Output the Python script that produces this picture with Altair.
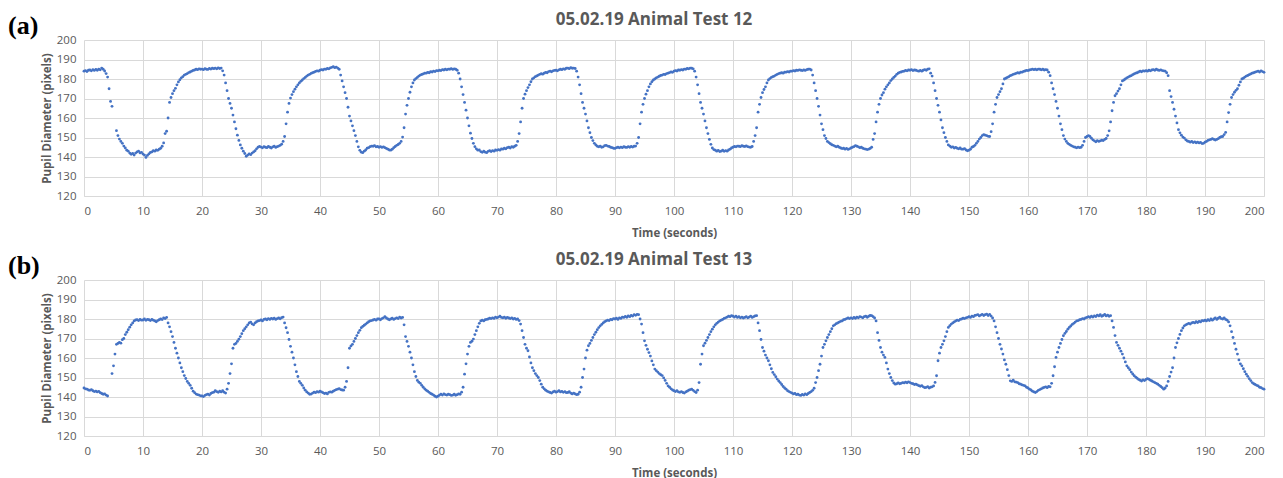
import altair as alt
import numpy as np
import pandas as pd

STEP = 0.25  # sampling interval (s) of the values below, starting at t = 0

TITLE_A = "05.02.19 Animal Test 12"
TITLE_B = "05.02.19 Animal Test 13"
X_TITLE = "Time (seconds)"
Y_TITLE = "Pupil Diameter (pixels)"
X_TICKS = list(range(0, 201, 10))
Y_TICKS = list(range(120, 201, 10))

N = None
test12 = [
    184.0, 184.3, 183.8, 184.5, 184.6, 184.2, 184.8, 184.4, 184.9, 184.5, 185.1, 184.7, 185.6, 185.0, 184.1, 182.8, 181.0, 175.0, 168.5, 166.0,
    N, N, 153.5, 151.0, 149.2, 148.0, 147.0, 145.6, 144.6, 143.5, 143.0, 142.0, 141.4, 141.8, 141.0, 142.0, 142.6, 143.0, 142.1, 142.4,
    141.5, 141.0, 139.8, 140.8, 141.6, 142.3, 142.6, 143.2, 143.0, 143.6, 143.4, 144.0, 144.5, 145.5, 147.2, 152.0, 153.2, 160.0, 168.0, 170.5,
    172.5, 174.0, 175.2, 177.0, 178.5, 179.6, 180.6, 181.2, 182.0, 182.4, 182.8, 183.3, 183.6, 184.0, 184.4, 184.6, 185.0, 184.8, 185.2, 185.0,
    185.1, 184.8, 185.3, 185.0, 184.9, 185.4, 185.1, 185.5, 185.3, 185.6, 185.2, 185.7, 185.4, 185.6, 184.2, 182.0, 178.0, 174.0, 170.0, 167.5,
    165.0, 161.5, 158.0, 154.5, 151.2, 148.5, 146.2, 144.5, 143.0, 141.8, 140.4, 141.0, 141.6, 141.2, 142.0, 142.6, 143.2, 144.2, 145.0, 145.4,
    145.1, 144.7, 145.3, 145.0, 144.8, 145.4, 145.0, 144.6, 145.2, 145.5, 144.9, 145.3, 145.6, 146.0, 146.6, 148.0, 150.5, 157.0, 163.0, 167.5,
    170.2, 172.0, 173.5, 174.8, 176.0, 177.0, 178.0, 178.8, 179.5, 180.2, 180.8, 181.5, 182.0, 182.4, 182.9, 183.2, 183.5, 183.9, 184.2, 184.0,
    184.5, 184.8, 184.6, 185.1, 185.0, 185.4, 185.2, 185.7, 186.0, 186.3, 185.8, 186.1, 185.6, 185.0, 182.0, 179.0, 176.0, 173.0, 170.0, 165.5,
    161.0, 158.5, 156.0, 153.5, 151.0, 148.0, 145.2, 143.4, 142.5, 142.2, 143.0, 143.6, 144.5, 144.8, 145.3, 145.6, 145.5, 145.8, 145.2, 145.4,
    145.0, 145.3, 144.9, 145.2, 144.8, 144.4, 144.0, 143.6, 143.5, 144.0, 144.8, 145.4, 146.0, 146.4, 147.0, 148.0, 150.2, 155.0, 162.0, 166.5,
    170.0, 173.2, 176.0, 178.0, 179.5, 180.2, 180.8, 181.5, 182.0, 182.3, 182.6, 183.0, 183.0, 183.4, 183.2, 183.7, 183.6, 184.0, 183.8, 184.3,
    184.2, 184.5, 184.3, 184.8, 184.6, 185.0, 184.7, 185.1, 185.0, 185.3, 184.9, 185.2, 185.0, 184.5, 183.0, 180.0, 176.0, 172.0, 168.0, 164.0,
    160.0, 156.0, 152.2, 149.5, 147.0, 145.3, 144.2, 143.5, 143.6, 142.8, 142.4, 143.0, 142.5, 142.2, 142.9, 143.2, 142.8, 143.3, 143.0, 143.6,
    143.4, 143.8, 143.5, 144.2, 144.0, 144.5, 144.2, 144.8, 145.0, 144.6, 145.3, 145.0, 145.5, 146.0, 148.0, 152.0, 158.0, 165.0, 170.0, 172.2,
    174.0, 175.6, 177.0, 178.6, 180.0, 180.6, 181.2, 181.6, 182.0, 182.4, 182.7, 182.5, 183.0, 183.4, 183.2, 183.8, 184.0, 183.7, 184.2, 184.4,
    184.5, 184.2, 184.7, 185.0, 184.8, 185.2, 185.0, 185.5, 185.6, 185.3, 185.8, 185.5, 185.6, 185.4, 184.0, 181.0, 177.0, 172.5, 168.0, 165.0,
    162.0, 158.5, 155.0, 152.5, 150.0, 148.4, 147.0, 146.2, 145.5, 145.2, 145.6, 145.0, 145.2, 145.8, 146.0, 145.6, 145.4, 145.0, 144.8, 144.5,
    144.4, 144.8, 145.0, 144.7, 145.1, 144.8, 145.3, 145.0, 144.9, 145.3, 145.0, 145.4, 145.1, 145.5, 145.6, 147.0, 150.0, 157.0, 163.0, 167.0,
    170.0, 172.2, 174.0, 176.0, 177.5, 178.6, 179.5, 180.0, 180.6, 181.0, 181.4, 181.8, 182.0, 182.4, 182.3, 182.8, 183.0, 183.3, 183.6, 183.4,
    184.0, 184.3, 184.1, 184.6, 184.5, 184.8, 184.6, 185.1, 185.0, 185.4, 185.2, 185.6, 185.5, 185.2, 184.0, 181.0, 177.0, 172.5, 168.0, 165.0,
    162.0, 158.5, 155.0, 152.0, 149.0, 146.5, 144.6, 143.8, 143.5, 143.0, 143.4, 142.8, 143.0, 143.5, 142.9, 143.3, 143.0, 143.6, 144.0, 144.6,
    145.0, 145.4, 145.2, 145.6, 145.5, 145.3, 145.8, 145.5, 145.4, 145.7, 145.3, 145.1, 145.0, 145.4, 148.0, 151.0, 155.0, 163.0, 167.0, 170.5,
    173.0, 174.6, 176.0, 178.0, 179.5, 180.2, 180.8, 181.2, 181.5, 182.0, 182.4, 182.8, 183.0, 183.2, 183.0, 183.5, 183.5, 183.8, 183.6, 184.0,
    184.0, 184.3, 184.1, 184.5, 184.4, 184.7, 184.5, 184.3, 184.6, 184.4, 184.8, 185.0, 185.1, 184.6, 182.0, 178.0, 174.0, 170.0, 166.0, 161.5,
    157.0, 154.0, 151.0, 149.5, 148.0, 147.4, 146.8, 146.3, 146.0, 145.6, 145.2, 145.5, 145.0, 144.6, 144.3, 144.5, 144.0, 144.4, 143.9, 144.2,
    144.6, 145.0, 145.3, 145.8, 145.5, 145.2, 144.8, 145.0, 144.5, 144.2, 144.0, 143.8, 144.0, 144.4, 145.0, 149.0, 152.0, 158.0, 163.0, 167.0,
    170.0, 171.8, 173.0, 174.8, 176.0, 177.0, 178.0, 179.2, 180.0, 180.8, 181.5, 182.4, 183.0, 183.4, 183.6, 183.9, 184.0, 184.4, 184.2, 184.6,
    184.5, 184.8, 184.3, 184.6, 184.5, 184.2, 184.0, 184.4, 184.0, 184.5, 184.8, 184.5, 185.0, 185.2, 183.0, 181.5, 178.0, 174.0, 170.0, 166.5,
    163.0, 159.0, 155.0, 152.5, 150.0, 148.0, 146.2, 145.6, 145.0, 145.2, 144.6, 144.9, 144.5, 144.2, 144.6, 144.0, 144.0, 144.3, 143.6, 143.2,
    143.5, 144.0, 145.0, 145.4, 146.0, 147.0, 148.0, 149.2, 150.0, 151.0, 151.5, 151.2, 151.0, 150.6, 150.5, 153.0, 157.0, 163.0, 167.0, 170.5,
    172.0, 173.5, 175.0, 177.5, 180.0, 180.4, 180.8, 181.2, 181.7, 182.0, 182.4, 182.6, 182.9, 183.2, 183.0, 183.5, 183.5, 183.9, 184.1, 184.4,
    184.3, 184.6, 184.8, 185.1, 184.8, 185.0, 184.7, 185.1, 185.0, 184.7, 185.0, 184.6, 184.8, 184.6, 183.5, 181.7, 178.0, 175.0, 172.0, 168.5,
    165.0, 161.0, 157.0, 154.0, 151.0, 149.2, 148.0, 147.0, 146.5, 146.0, 145.6, 145.2, 145.0, 144.7, 145.1, 144.8, 145.0, 146.0, 148.0, 150.0,
    150.5, 151.0, 150.5, 149.6, 148.8, 148.3, 147.8, 148.4, 148.0, 148.3, 148.6, 148.4, 149.0, 149.5, 151.0, 153.4, 158.0, 163.7, 168.0, 171.4,
    172.5, 173.8, 175.0, 177.0, 179.0, 179.5, 180.0, 180.6, 181.0, 181.4, 181.7, 182.2, 182.6, 183.0, 183.2, 183.6, 184.0, 183.7, 184.2, 184.0,
    184.3, 184.0, 184.5, 184.2, 184.6, 184.8, 184.5, 185.0, 184.6, 184.4, 184.7, 184.3, 184.2, 184.0, 183.2, 181.7, 174.0, 171.0, 168.0, 164.5,
    161.0, 157.5, 154.0, 152.4, 151.2, 150.2, 149.7, 148.8, 148.2, 148.0, 147.6, 148.0, 147.4, 147.8, 147.3, 147.6, 147.2, 147.5, 146.9, 147.0,
    147.6, 148.0, 148.5, 148.8, 149.0, 149.4, 149.0, 148.7, 149.0, 149.4, 150.0, 150.4, 150.5, 151.5, 152.6, 158.0, 162.8, 167.0, 170.5, 172.0,
    173.2, 174.2, 175.0, 176.8, 178.5, 180.0, 180.4, 181.0, 181.5, 181.8, 182.2, 182.6, 183.0, 183.2, 183.5, 183.8, 184.0, 183.6, 184.2, 183.8,
    183.4,
]

test13 = [
    144.6, 144.2, 144.0, 143.6, 143.4, 143.8, 143.2, 142.8, 143.0, 142.6, 142.9, 142.2, 141.8, 141.4, 141.6, 141.0, 140.5, N, N, 152.0,
    156.0, 162.0, 167.0, 167.5, 168.0, 167.6, 169.4, 170.0, 172.0, 173.2, 174.5, 175.8, 177.0, 178.0, 179.0, 179.5, 179.6, 179.2, 179.8, 179.4,
    179.5, 180.0, 179.3, 179.8, 179.6, 179.2, 179.8, 179.4, 179.0, 178.6, 179.2, 179.6, 180.0, 179.7, 180.6, 180.2, 180.8, 178.0, 176.0, 173.5,
    171.0, 168.0, 165.0, 162.5, 160.0, 157.5, 155.0, 153.0, 151.0, 149.5, 148.0, 147.0, 146.0, 144.5, 143.0, 142.2, 141.5, 141.2, 141.0, 140.6,
    140.5, 140.2, 140.8, 141.2, 141.5, 141.0, 141.8, 142.2, 142.5, 143.2, 142.8, 142.4, 143.0, 142.6, 143.2, 142.5, 142.0, 144.0, 147.0, 152.0,
    157.0, 165.0, 167.0, 167.5, 168.5, 169.6, 171.0, 172.5, 174.0, 175.0, 176.0, 177.0, 178.0, 178.4, 177.5, 177.0, 178.0, 178.6, 179.0, 179.2,
    179.5, 179.0, 179.8, 180.0, 179.6, 180.2, 179.8, 180.3, 180.0, 180.4, 179.8, 180.2, 180.5, 180.1, 180.7, 181.0, 178.0, 175.5, 173.0, 169.5,
    166.0, 163.0, 160.0, 156.5, 153.0, 150.5, 148.0, 147.0, 146.0, 144.6, 143.5, 142.6, 142.0, 141.4, 141.5, 142.0, 142.5, 142.2, 142.8, 142.5,
    143.0, 142.6, 142.2, 141.8, 142.0, 141.6, 142.4, 142.6, 142.5, 143.0, 143.4, 143.8, 144.0, 144.3, 143.8, 143.6, 143.5, 145.0, 148.0, 155.0,
    165.0, 166.2, 167.0, 168.5, 170.0, 171.5, 173.0, 174.2, 175.5, 176.2, 176.8, 177.4, 178.0, 178.6, 179.0, 179.2, 179.5, 179.8, 179.4, 180.0,
    180.0, 179.6, 180.2, 180.6, 181.2, 180.5, 180.0, 179.6, 180.0, 180.4, 179.8, 180.2, 180.6, 180.2, 181.0, 180.5, 180.8, 177.0, 171.0, 168.5,
    166.0, 163.0, 160.0, 156.5, 153.0, 150.5, 148.5, 147.6, 147.0, 146.0, 145.0, 144.2, 143.5, 143.0, 142.4, 141.8, 141.4, 141.0, 140.4, 140.0,
    140.4, 141.0, 141.4, 141.0, 141.6, 141.2, 141.0, 141.4, 141.2, 140.8, 141.0, 141.4, 140.9, 141.2, 141.6, 141.4, 142.5, 145.0, 151.7, 157.0,
    162.0, 166.0, 168.0, 168.6, 169.7, 172.0, 174.0, 176.0, 177.8, 179.0, 179.4, 179.0, 179.6, 179.8, 180.0, 180.4, 180.2, 180.6, 180.3, 181.0,
    180.6, 181.0, 181.4, 180.8, 180.6, 181.0, 180.4, 180.8, 180.5, 180.2, 180.6, 180.0, 180.3, 179.8, 180.0, 179.2, 177.4, 174.0, 170.5, 167.0,
    165.0, 163.7, 160.5, 157.5, 155.0, 153.5, 152.0, 151.0, 150.0, 148.4, 146.6, 145.0, 144.2, 143.5, 143.0, 142.6, 142.3, 142.0, 142.6, 143.0,
    142.5, 142.8, 143.2, 142.6, 142.9, 142.4, 142.8, 142.2, 142.3, 142.7, 142.0, 141.6, 142.0, 141.6, 141.2, 141.4, 142.5, 145.0, 150.0, 154.3,
    160.0, 164.0, 166.3, 167.5, 169.0, 170.5, 172.0, 173.2, 174.5, 175.6, 176.5, 177.2, 178.0, 178.6, 179.0, 179.4, 179.2, 179.8, 179.6, 180.2,
    180.0, 180.4, 179.8, 180.6, 180.3, 181.0, 180.8, 181.3, 180.9, 181.6, 181.2, 181.8, 181.5, 182.2, 181.9, 182.4, 182.2, 180.0, 177.4, 173.0,
    168.8, 166.5, 164.5, 162.8, 161.0, 158.5, 156.5, 154.3, 153.5, 152.8, 152.0, 151.4, 151.0, 149.8, 148.5, 147.0, 145.7, 145.0, 144.2, 143.6,
    143.2, 142.8, 143.2, 142.6, 142.4, 142.8, 142.3, 142.0, 142.6, 143.0, 143.5, 143.8, 144.0, 143.4, 142.8, 142.3, 143.5, 147.4, 156.8, 162.0,
    166.3, 167.6, 169.0, 170.5, 172.0, 173.5, 174.8, 176.0, 177.0, 177.8, 178.4, 179.0, 179.4, 179.8, 180.3, 180.6, 181.0, 181.4, 181.2, 181.7,
    181.4, 181.0, 181.5, 180.8, 181.2, 180.6, 181.0, 180.5, 180.8, 181.2, 180.6, 181.0, 181.5, 180.8, 181.2, 181.6, 181.7, 178.0, 174.0, 169.5,
    165.4, 163.5, 161.5, 160.0, 158.6, 156.5, 154.5, 152.6, 151.5, 150.4, 149.2, 148.2, 147.4, 146.4, 145.4, 144.6, 144.0, 143.2, 142.8, 142.4,
    142.0, 141.6, 141.8, 141.2, 141.4, 141.0, 140.8, 141.3, 141.0, 141.6, 141.2, 141.8, 142.3, 142.8, 143.4, 144.5, 147.4, 150.0, 153.5, 156.8,
    161.0, 165.4, 167.0, 168.8, 170.5, 172.0, 173.5, 175.0, 176.5, 177.0, 177.6, 178.0, 178.4, 178.8, 179.0, 179.6, 179.8, 180.2, 180.5, 180.2,
    180.6, 180.2, 180.8, 180.4, 181.0, 180.6, 181.2, 181.0, 180.6, 181.2, 181.5, 180.9, 181.4, 181.8, 181.7, 181.2, 180.5, 179.0, 173.0, 169.0,
    165.4, 163.0, 161.5, 160.3, 157.5, 154.3, 152.0, 150.0, 148.4, 147.2, 146.6, 146.8, 147.2, 146.8, 147.0, 147.4, 147.2, 147.6, 147.3, 147.8,
    147.4, 147.0, 146.8, 146.4, 146.6, 146.2, 145.8, 145.5, 145.8, 145.2, 144.8, 144.9, 145.3, 144.6, 145.0, 145.2, 145.7, 147.5, 150.9, 158.6,
    162.5, 165.4, 167.0, 168.8, 171.0, 173.5, 175.7, 176.6, 177.4, 178.0, 178.5, 179.0, 179.4, 179.2, 179.8, 180.0, 180.4, 180.2, 180.6, 180.8,
    181.2, 180.8, 181.5, 181.2, 181.8, 182.0, 182.2, 181.6, 182.0, 182.4, 181.8, 182.2, 182.5, 181.8, 182.4, 181.5, 180.5, 179.0, 176.0, 173.0,
    170.0, 167.0, 164.6, 162.0, 159.0, 156.8, 154.0, 151.0, 148.3, 148.0, 148.6, 147.8, 147.6, 147.4, 146.8, 146.6, 146.2, 146.0, 145.7, 145.0,
    144.6, 144.0, 143.6, 143.0, 142.6, 142.3, 142.8, 143.4, 143.8, 144.2, 144.6, 144.9, 145.2, 144.8, 145.4, 145.2, 147.0, 150.9, 155.5, 160.3,
    163.0, 165.4, 167.5, 169.5, 171.4, 172.6, 173.6, 174.8, 175.7, 176.4, 177.2, 177.8, 178.4, 179.0, 179.2, 179.6, 179.8, 180.2, 180.0, 180.6,
    180.8, 181.2, 180.8, 181.4, 181.0, 181.6, 181.3, 182.0, 181.6, 182.2, 181.4, 181.8, 182.3, 181.6, 182.0, 181.4, 181.7, 179.0, 175.7, 171.5,
    168.0, 166.5, 165.0, 163.5, 162.0, 160.0, 158.0, 156.0, 155.0, 154.0, 152.8, 151.8, 150.9, 150.2, 149.6, 149.0, 148.6, 148.2, 148.8, 148.4,
    149.0, 149.4, 149.1, 148.6, 148.2, 147.8, 147.4, 147.0, 146.6, 146.0, 145.4, 144.8, 144.0, 144.6, 145.7, 148.0, 150.5, 152.8, 155.0, 160.0,
    165.4, 167.8, 170.0, 172.1, 174.0, 175.4, 176.5, 177.0, 177.4, 177.8, 177.4, 178.0, 178.3, 178.0, 178.6, 178.2, 178.8, 178.5, 179.2, 179.0,
    179.4, 179.0, 179.6, 179.2, 180.0, 179.4, 180.0, 180.6, 179.8, 180.4, 181.0, 180.2, 180.0, 180.6, 179.8, 179.4, 178.5, 176.5, 173.5, 170.5,
    167.5, 164.5, 162.0, 159.0, 157.0, 156.0, 154.5, 153.0, 151.7, 150.6, 149.4, 148.4, 147.4, 146.8, 146.4, 146.0, 145.7, 145.0, 144.8, 144.3,
    144.0,
]

FONT = "Open Sans"
GRAY = "#595959"
GRID = "#d9d9d9"
BLUE = "#4472C4"
W, H = 1180, 156


def panel(values, title, tag):
    df = pd.DataFrame({"t": np.arange(len(values)) * STEP, "v": values}).dropna()
    pts = alt.Chart(df).mark_circle(size=8, color=BLUE, opacity=1).encode(
        x=alt.X("t:Q", scale=alt.Scale(domain=[0, 200], nice=False),
                axis=alt.Axis(values=X_TICKS, title=X_TITLE, grid=True, ticks=False,
                              domain=True, domainColor=GRID, labelPadding=9,
                              titlePadding=11)),
        y=alt.Y("v:Q", scale=alt.Scale(domain=[120, 200], nice=False),
                axis=alt.Axis(values=Y_TICKS, title=Y_TITLE, grid=True, ticks=False,
                              domain=False, labelPadding=8, titlePadding=4)),
    )
    ttl = alt.Chart(pd.DataFrame({"s": [title]})).mark_text(
        font=FONT, fontSize=17, fontWeight="bold", color=GRAY,
        align="center", baseline="alphabetic",
    ).encode(text="s:N", x=alt.value(570), y=alt.value(-15))
    lab = alt.Chart(pd.DataFrame({"s": [tag]})).mark_text(
        font="Liberation Serif", fontSize=26, fontWeight="bold", color="black",
        align="left", baseline="alphabetic",
    ).encode(text="s:N", x=alt.value(-76), y=alt.value(-6))
    return alt.layer(pts, ttl, lab).properties(width=W, height=H)


chart = alt.vconcat(panel(test12, TITLE_A, "(a)"), panel(test13, TITLE_B, "(b)"),
                    spacing=12).properties(
    padding={"left": 0, "top": 3, "right": 0, "bottom": 0}
).configure_view(stroke=None).configure_axis(
    labelFont=FONT, labelFontSize=11.5, labelColor=GRAY,
    titleFont=FONT, titleFontSize=11.5, titleFontWeight="bold", titleColor=GRAY,
    gridColor=GRID, gridWidth=1,
)

chart.save("out.html", embed_options={"renderer": "svg", "actions": False})
